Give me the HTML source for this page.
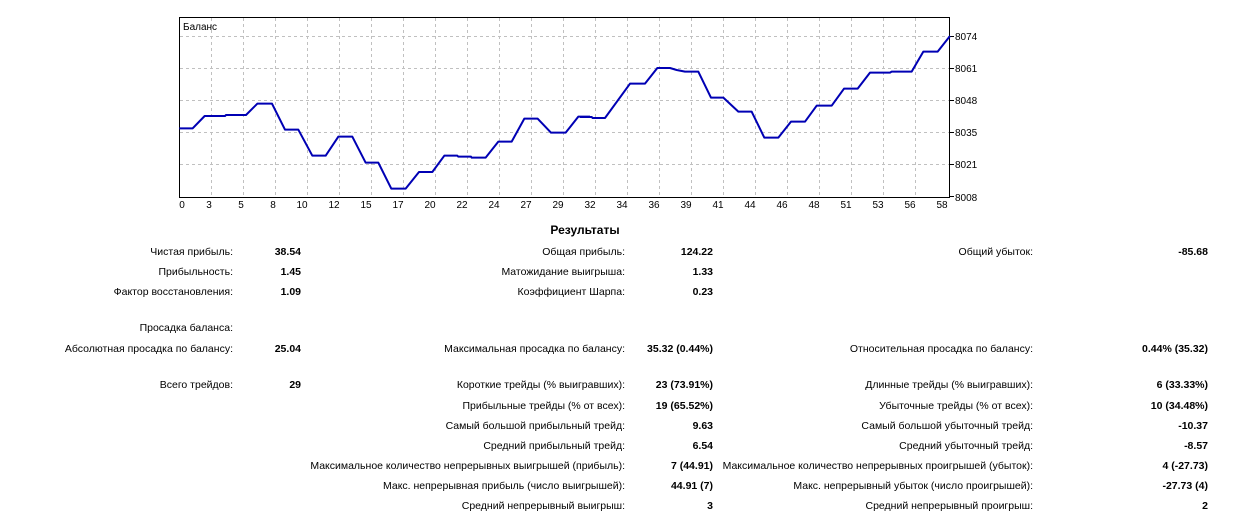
<!DOCTYPE html>
<html><head><meta charset="utf-8"><style>
html,body{margin:0;padding:0;background:#fff;width:1240px;height:528px;overflow:hidden}
svg text{font-family:"Liberation Sans",sans-serif;font-size:10.5px;fill:#000}
.b{font-weight:bold}
.ax{font-size:10px}
</style></head><body>
<svg width="1240" height="528" xmlns="http://www.w3.org/2000/svg">
<rect x="179.5" y="17.5" width="770" height="180" fill="#fff" stroke="#000" stroke-width="1"/>
<g stroke="#c0c0c0" stroke-dasharray="3,3" stroke-width="1">
<line x1="211.5" y1="18" x2="211.5" y2="197"/><line x1="243.5" y1="18" x2="243.5" y2="197"/><line x1="275.5" y1="18" x2="275.5" y2="197"/><line x1="307.5" y1="18" x2="307.5" y2="197"/><line x1="339.5" y1="18" x2="339.5" y2="197"/><line x1="371.5" y1="18" x2="371.5" y2="197"/><line x1="403.5" y1="18" x2="403.5" y2="197"/><line x1="435.5" y1="18" x2="435.5" y2="197"/><line x1="467.5" y1="18" x2="467.5" y2="197"/><line x1="499.5" y1="18" x2="499.5" y2="197"/><line x1="531.5" y1="18" x2="531.5" y2="197"/><line x1="563.5" y1="18" x2="563.5" y2="197"/><line x1="595.5" y1="18" x2="595.5" y2="197"/><line x1="627.5" y1="18" x2="627.5" y2="197"/><line x1="659.5" y1="18" x2="659.5" y2="197"/><line x1="691.5" y1="18" x2="691.5" y2="197"/><line x1="723.5" y1="18" x2="723.5" y2="197"/><line x1="755.5" y1="18" x2="755.5" y2="197"/><line x1="787.5" y1="18" x2="787.5" y2="197"/><line x1="819.5" y1="18" x2="819.5" y2="197"/><line x1="851.5" y1="18" x2="851.5" y2="197"/><line x1="883.5" y1="18" x2="883.5" y2="197"/><line x1="915.5" y1="18" x2="915.5" y2="197"/>
<line x1="180" y1="36.5" x2="949" y2="36.5"/><line x1="180" y1="68.5" x2="949" y2="68.5"/><line x1="180" y1="100.5" x2="949" y2="100.5"/><line x1="180" y1="132.5" x2="949" y2="132.5"/><line x1="180" y1="164.5" x2="949" y2="164.5"/>
</g>
<g stroke="#000"><line x1="950" y1="36.5" x2="954" y2="36.5"/><line x1="950" y1="68.5" x2="954" y2="68.5"/><line x1="950" y1="100.5" x2="954" y2="100.5"/><line x1="950" y1="132.5" x2="954" y2="132.5"/><line x1="950" y1="164.5" x2="954" y2="164.5"/><line x1="950" y1="196.5" x2="954" y2="196.5"/></g>
<text x="183" y="30" class="ax">Баланс</text>
<g fill="none" stroke="#0000b4" stroke-width="6" stroke-linejoin="round">
<polyline transform="translate(170,10) scale(0.33333)" points="28,355 68,355 104,318 165,318 168,315 228,315 262,281 306,281 345,359 385,359 427,437 467,437 505,380 547,380 587,458 625,458 664,536 707,536 747,486 787,486 823,437 862,437 865,440 903,440 905,443 947,443 985,395 1025,395 1063,326 1103,326 1143,368 1187,368 1225,320 1260,320"/>
<polyline transform="translate(580,10) scale(0.33333)" points="0,321 35,321 38,324 75,324 150,221 195,221 232,174 270,174 290,180 315,185 355,185 393,263 430,263 475,305 515,305 553,383 595,383 633,335 675,335 710,287 755,287 792,236 833,236 870,188 930,188 935,185 995,185 1030,125 1073,125 1110,78"/>
</g>
<g>
<text x="955" y="40" class="ax">8074</text><text x="955" y="72" class="ax">8061</text><text x="955" y="104" class="ax">8048</text><text x="955" y="136" class="ax">8035</text><text x="955" y="168" class="ax">8021</text><text x="955" y="201" class="ax">8008</text>
</g>
<g text-anchor="middle">
<text class="ax" x="182" y="208">0</text><text class="ax" x="209" y="208">3</text><text class="ax" x="241" y="208">5</text><text class="ax" x="273" y="208">8</text><text class="ax" x="302" y="208">10</text><text class="ax" x="334" y="208">12</text><text class="ax" x="366" y="208">15</text><text class="ax" x="398" y="208">17</text><text class="ax" x="430" y="208">20</text><text class="ax" x="462" y="208">22</text><text class="ax" x="494" y="208">24</text><text class="ax" x="526" y="208">27</text><text class="ax" x="558" y="208">29</text><text class="ax" x="590" y="208">32</text><text class="ax" x="622" y="208">34</text><text class="ax" x="654" y="208">36</text><text class="ax" x="686" y="208">39</text><text class="ax" x="718" y="208">41</text><text class="ax" x="750" y="208">44</text><text class="ax" x="782" y="208">46</text><text class="ax" x="814" y="208">48</text><text class="ax" x="846" y="208">51</text><text class="ax" x="878" y="208">53</text><text class="ax" x="910" y="208">56</text><text class="ax" x="942" y="208">58</text>
</g>
<text x="585" y="234" text-anchor="middle" class="b" style="font-size:12px">Результаты</text>
<g text-anchor="end">
<text x="233" y="255">Чистая прибыль:</text><text x="301" y="255" class="b">38.54</text>
<text x="233" y="275">Прибыльность:</text><text x="301" y="275" class="b">1.45</text>
<text x="233" y="295">Фактор восстановления:</text><text x="301" y="295" class="b">1.09</text>
<text x="233" y="331">Просадка баланса:</text>
<text x="233" y="352">Абсолютная просадка по балансу:</text><text x="301" y="352" class="b">25.04</text>
<text x="233" y="388">Всего трейдов:</text><text x="301" y="388" class="b">29</text>

<text x="625" y="255">Общая прибыль:</text><text x="713" y="255" class="b">124.22</text>
<text x="625" y="275">Матожидание выигрыша:</text><text x="713" y="275" class="b">1.33</text>
<text x="625" y="295">Коэффициент Шарпа:</text><text x="713" y="295" class="b">0.23</text>
<text x="625" y="352">Максимальная просадка по балансу:</text><text x="713" y="352" class="b">35.32 (0.44%)</text>
<text x="625" y="388">Короткие трейды (% выигравших):</text><text x="713" y="388" class="b">23 (73.91%)</text>
<text x="625" y="409">Прибыльные трейды (% от всех):</text><text x="713" y="409" class="b">19 (65.52%)</text>
<text x="625" y="429">Самый большой прибыльный трейд:</text><text x="713" y="429" class="b">9.63</text>
<text x="625" y="449">Средний прибыльный трейд:</text><text x="713" y="449" class="b">6.54</text>
<text x="625" y="469">Максимальное количество непрерывных выигрышей (прибыль):</text><text x="713" y="469" class="b">7 (44.91)</text>
<text x="625" y="489">Макс. непрерывная прибыль (число выигрышей):</text><text x="713" y="489" class="b">44.91 (7)</text>
<text x="625" y="509">Средний непрерывный выигрыш:</text><text x="713" y="509" class="b">3</text>

<text x="1033" y="255">Общий убыток:</text><text x="1208" y="255" class="b">-85.68</text>
<text x="1033" y="352">Относительная просадка по балансу:</text><text x="1208" y="352" class="b">0.44% (35.32)</text>
<text x="1033" y="388">Длинные трейды (% выигравших):</text><text x="1208" y="388" class="b">6 (33.33%)</text>
<text x="1033" y="409">Убыточные трейды (% от всех):</text><text x="1208" y="409" class="b">10 (34.48%)</text>
<text x="1033" y="429">Самый большой убыточный трейд:</text><text x="1208" y="429" class="b">-10.37</text>
<text x="1033" y="449">Средний убыточный трейд:</text><text x="1208" y="449" class="b">-8.57</text>
<text x="1033" y="469">Максимальное количество непрерывных проигрышей (убыток):</text><text x="1208" y="469" class="b">4 (-27.73)</text>
<text x="1033" y="489">Макс. непрерывный убыток (число проигрышей):</text><text x="1208" y="489" class="b">-27.73 (4)</text>
<text x="1033" y="509">Средний непрерывный проигрыш:</text><text x="1208" y="509" class="b">2</text>
</g>
</svg>
</body></html>
